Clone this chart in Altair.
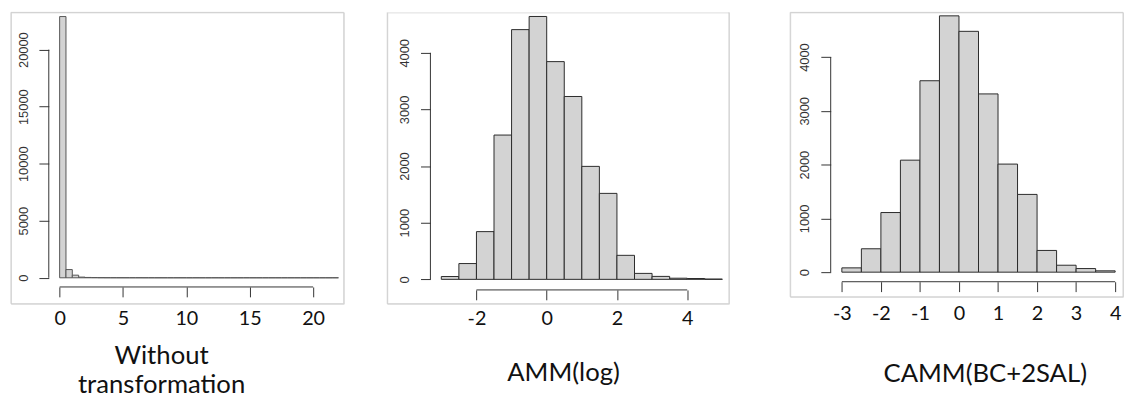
import altair as alt
import pandas as pd
import numpy as np

BIN_WIDTH = 0.5

# Panel 1: Without transformation (bins of 0.5 from 0 to 22)
raw_start = 0.0
raw_counts = [22900, 720, 230, 60, 30, 20, 12, 8, 6, 5, 4, 3, 3, 2, 2, 1, 1, 1, 1, 1,
              0, 1, 0, 0, 1, 0, 0, 0, 0, 1, 0, 0, 0, 0, 0, 0, 0, 0, 0, 0, 0, 0, 0, 1]
raw_xticks = [0, 5, 10, 15, 20]
raw_yticks = [0, 5000, 10000, 15000, 20000]
raw_title = ["Without", "transformation"]

# Panel 2: AMM(log) (bins of 0.5 from -3 to 5)
log_start = -3.0
log_counts = [50, 279, 843, 2548, 4410, 4642, 3845, 3229, 1995, 1518, 424, 105, 52, 20, 15, 5]
log_xticks = [-2, 0, 2, 4]
log_yticks = [0, 1000, 2000, 3000, 4000]
log_title = "AMM(log)"

# Panel 3: CAMM(BC+2SAL) (bins of 0.5 from -3 to 4)
camm_start = -3.0
camm_counts = [80, 435, 1109, 2083, 3560, 4767, 4479, 3315, 2010, 1446, 404, 129, 67, 25]
camm_xticks = [-3, -2, -1, 0, 1, 2, 3, 4]
camm_yticks = [0, 1000, 2000, 3000, 4000]
camm_title = "CAMM(BC+2SAL)"

FRAME = "#cfcfcf"
AXC = "#333333"


def bins(start, counts):
    lo = start + BIN_WIDTH * np.arange(len(counts))
    return pd.DataFrame({"lo": lo, "hi": lo + BIN_WIDTH, "n": counts, "base": 0})


def panel(start, counts, xticks, yticks, title, width, height, xdom, ydom,
          xoff, yoff, lab_pad, title_x, title_y, bar_stroke, sides):
    df = bins(start, counts)
    xs = alt.Scale(domain=xdom, nice=False, zero=False)
    ys = alt.Scale(domain=ydom, nice=False, zero=False)
    xaxis = alt.Axis(
        values=xticks, domain=False, grid=False, tickSize=10, tickColor=AXC,
        tickWidth=1, labelFont="Lato", labelFontSize=20, labelColor="#111111",
        labelPadding=lab_pad, labelFlush=False, labelOverlap=False,
        labelExpr="'' + datum.value", offset=xoff,
        title=title, titleFont="Lato", titleFontSize=26, titleFontWeight="normal",
        titleColor="#111111", titleX=title_x, titleY=title_y, titleAlign="center",
        titleBaseline="top", titleLineHeight=30, titleAnchor="start")
    yaxis = alt.Axis(
        values=yticks, domain=False, grid=False, tickSize=10, tickColor=AXC,
        tickWidth=1, labelFont="Liberation Sans", labelFontSize=13,
        labelColor="#333333", labelAngle=270, labelAlign="center",
        labelBaseline="bottom", labelPadding=9, labelFlush=False,
        labelOverlap=False, labelExpr="'' + datum.value", offset=yoff, title="")
    bars = alt.Chart(df).mark_rect(fill="#d3d3d3", stroke=bar_stroke, strokeWidth=1).encode(
        x=alt.X("lo:Q", scale=xs, axis=xaxis),
        x2="hi:Q",
        y=alt.Y("n:Q", scale=ys, axis=yaxis),
        y2="base:Q",
    )
    xr = pd.DataFrame({"lo": [min(xticks)], "hi": [max(xticks)]})
    xrule = alt.Chart(xr).mark_rule(color=AXC, strokeWidth=1).encode(
        x=alt.X("lo:Q", scale=xs, axis=xaxis), x2="hi:Q", y=alt.value(height + xoff))
    yr = pd.DataFrame({"n": [min(yticks)], "base": [max(yticks)]})
    yrule = alt.Chart(yr).mark_rule(color=AXC, strokeWidth=1).encode(
        y=alt.Y("n:Q", scale=ys, axis=yaxis), y2="base:Q", x=alt.value(-yoff))
    one = pd.DataFrame({"k": [0]})
    frames = []
    if "top" in sides:
        frames.append(alt.Chart(one).mark_rule(color=FRAME).encode(
            x=alt.value(0), x2=alt.value(width), y=alt.value(0)))
    if "bottom" in sides:
        frames.append(alt.Chart(one).mark_rule(color=FRAME).encode(
            x=alt.value(0), x2=alt.value(width), y=alt.value(height)))
    if "left" in sides:
        frames.append(alt.Chart(one).mark_rule(color=FRAME).encode(
            x=alt.value(0), y=alt.value(0), y2=alt.value(height)))
    if "right" in sides:
        frames.append(alt.Chart(one).mark_rule(color=FRAME).encode(
            x=alt.value(width), y=alt.value(0), y2=alt.value(height)))
    return alt.layer(bars, xrule, yrule, *frames).properties(width=width, height=height)


p1 = panel(raw_start, raw_counts, raw_xticks, raw_yticks, raw_title,
           337, 295, [-3.84, 22.42], [-2277, 23264], -17, -38.3, 12, 152, 56,
           "#555555", ["top", "bottom", "left", "right"])
p2 = panel(log_start, log_counts, log_xticks, log_yticks, log_title,
           346, 295, [-4.539, 5.189], [-431, 4714], -14, -43.7, 9, 178, 71,
           "#2a2a2a", ["bottom", "left", "right"])
p3 = panel(camm_start, camm_counts, camm_xticks, camm_yticks, camm_title,
           337, 288, [-4.323, 4.202], [-459, 4831], -15.3, -41, 12, 197, 80,
           "#2a2a2a", ["top", "bottom", "left", "right"])

chart = alt.hconcat(alt.hconcat(p1, p2, spacing=42), p3, spacing=60).properties(
    padding={"left": 2, "top": 1, "right": 2, "bottom": 0}
).configure_view(stroke=None).configure(background="white")

chart.save("out.html", embed_options={"renderer": "svg", "actions": False})
